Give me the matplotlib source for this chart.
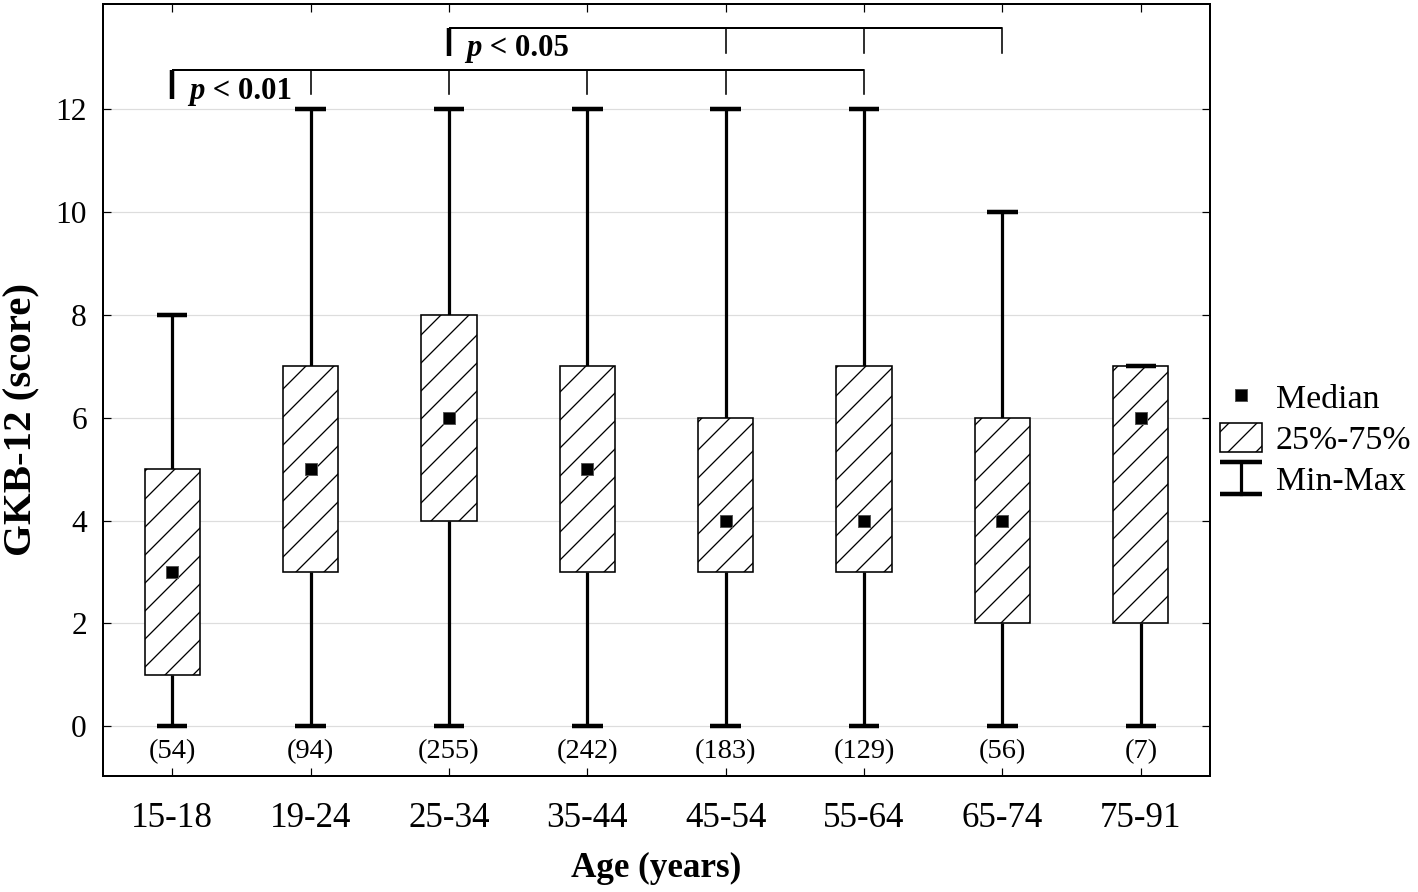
import matplotlib
matplotlib.use('Agg')
import matplotlib.pyplot as plt
from matplotlib.patches import Patch
from matplotlib.lines import Line2D
from matplotlib.legend_handler import HandlerBase

DPI = 168
PX = 72 / DPI  # points per pixel

# ---------------- data ----------------
age_groups = ['15-18', '19-24', '25-34', '35-44', '45-54', '55-64', '65-74', '75-91']
n_counts = [54, 94, 255, 242, 183, 129, 56, 7]
mins = [0, 0, 0, 0, 0, 0, 0, 0]
q1 = [1, 3, 4, 3, 3, 3, 2, 2]
medians = [3, 5, 6, 5, 4, 4, 4, 6]
q3 = [5, 7, 8, 7, 6, 7, 6, 7]
maxs = [8, 12, 12, 12, 12, 12, 10, 7]
y_ticks = [0, 2, 4, 6, 8, 10, 12]

# significance brackets: (start group, other groups, label)
sig1_start, sig1_groups, sig1_label = 0, [1, 2, 3, 4, 5], ' < 0.01'
sig2_start, sig2_groups, sig2_label = 2, [4, 5, 6], ' < 0.05'

# ---------------- style ----------------
plt.rcParams['font.family'] = ['Liberation Serif', 'DejaVu Serif']
plt.rcParams['hatch.linewidth'] = 1.3 * PX
plt.rcParams['hatch.color'] = 'black'

fig = plt.figure(figsize=(1418 / DPI, 892 / DPI), dpi=DPI)
ax = fig.add_axes([103 / 1418, 1 - 776 / 892, (1210 - 103) / 1418, (776 - 4) / 892])

x = list(range(len(age_groups)))
box_w = 0.4
cap_w = 0.22

ax.set_axisbelow(True)
ax.yaxis.grid(True, color='#dddddd', lw=1.2 * PX)

# whiskers
ax.vlines(x, q3, maxs, color='black', lw=3.2 * PX, zorder=2)
ax.vlines(x, mins, q1, color='black', lw=3.2 * PX, zorder=2)
# boxes
heights = [b - a for a, b in zip(q1, q3)]
ax.bar(x, heights, bottom=q1, width=box_w, color='white', edgecolor='black',
       linewidth=1.6 * PX, hatch='//', zorder=3)
# caps
ax.hlines(maxs, [i - cap_w / 2 for i in x], [i + cap_w / 2 for i in x],
          color='black', lw=4.5 * PX, zorder=4)
ax.hlines(mins, [i - cap_w / 2 for i in x], [i + cap_w / 2 for i in x],
          color='black', lw=4.5 * PX, zorder=4)
# medians
ax.plot(x, medians, ls='none', marker='s', ms=12 * PX, mfc='black', mec='#555555',
        mew=1.0 * PX, zorder=5)

# group sizes
for i, n in zip(x, n_counts):
    ax.text(i, -0.5, f'({n})', ha='center', va='center', fontsize=12.2)


# significance brackets
def bracket(start, groups, label, y_line, y_thick, y_thin, label_y):
    ax.plot([start, max(groups)], [y_line, y_line], color='black', lw=2.0 * PX,
            solid_capstyle='butt', zorder=4)
    ax.plot([start, start], [y_line, y_thick], color='black', lw=4.5 * PX,
            solid_capstyle='butt', zorder=4)
    for g in groups:
        ax.plot([g, g], [y_line, y_thin], color='black', lw=1.6 * PX, zorder=4)
    t = ax.text(start + 0.125, label_y, 'p', ha='left', va='baseline', fontsize=13.2,
                fontweight='bold', fontstyle='italic')
    ax.annotate(label, xy=(1, 0), xycoords=t, ha='left', va='bottom',
                fontsize=13.2, fontweight='bold')


bracket(sig1_start, sig1_groups, sig1_label, 12.76, 12.2, 12.3, 12.2)
bracket(sig2_start, sig2_groups, sig2_label, 13.58, 13.03, 13.1, 13.03)

ax.set_xlim(-0.5, len(age_groups) - 0.5)
ax.set_ylim(-0.97, 14.05)
ax.set_xticks(x)
ax.set_xticklabels(age_groups)
ax.set_yticks(y_ticks)
ax.tick_params(axis='both', direction='in', length=8 * PX, width=1.2 * PX,
               top=True, right=True)
ax.tick_params(axis='x', labelsize=15, pad=18 * PX + 8 * PX)
ax.tick_params(axis='y', labelsize=13.5, pad=8 * PX + 8 * PX)
for s in ax.spines.values():
    s.set_linewidth(2.0 * PX)

ax.set_xlabel('Age (years)', fontsize=15, fontweight='bold', va='center')
ax.xaxis.set_label_coords(0.5, (776 - 868) / 772)
ax.set_ylabel('GKB-12 (score)', fontsize=17.5, fontweight='bold', va='center')
ax.yaxis.set_label_coords((22 - 103) / 1107, (776 - 420) / 772)


class MinMaxHandler(HandlerBase):
    def create_artists(self, legend, orig_handle, xdescent, ydescent, width,
                       height, fontsize, trans):
        cx = width / 2 - xdescent
        y0 = -ydescent - 0.05 * height
        y1 = -ydescent + 1.05 * height
        w = width * 1.0
        x0 = cx - w / 2
        x1 = cx + w / 2
        lines = [
            Line2D([cx, cx], [y0, y1], color='black', lw=3.2 * PX),
            Line2D([x0, x1], [y0, y0], color='black', lw=4.5 * PX, solid_capstyle='butt'),
            Line2D([x0, x1], [y1, y1], color='black', lw=4.5 * PX, solid_capstyle='butt'),
        ]
        for ln in lines:
            ln.set_transform(trans)
        return lines


class MinMaxKey:
    pass


h_med = Line2D([], [], ls='none', marker='s', ms=12 * PX, mfc='black', mec='#555555',
               mew=1.0 * PX)
h_box = Patch(facecolor='white', edgecolor='black', hatch='//', linewidth=1.6 * PX)
h_mm = MinMaxKey()

fig.legend([h_med, h_box, h_mm], ['Median', '25%-75%', 'Min-Max'],
           handler_map={MinMaxKey: MinMaxHandler()},
           loc='upper left', bbox_to_anchor=(1220 / 1418, 1 - 382 / 892),
           frameon=False, fontsize=14.5, handlelength=1.25, handleheight=0.95,
           handletextpad=0.4, labelspacing=0.22, borderpad=0, borderaxespad=0)

fig.savefig('out.png', dpi=DPI)
